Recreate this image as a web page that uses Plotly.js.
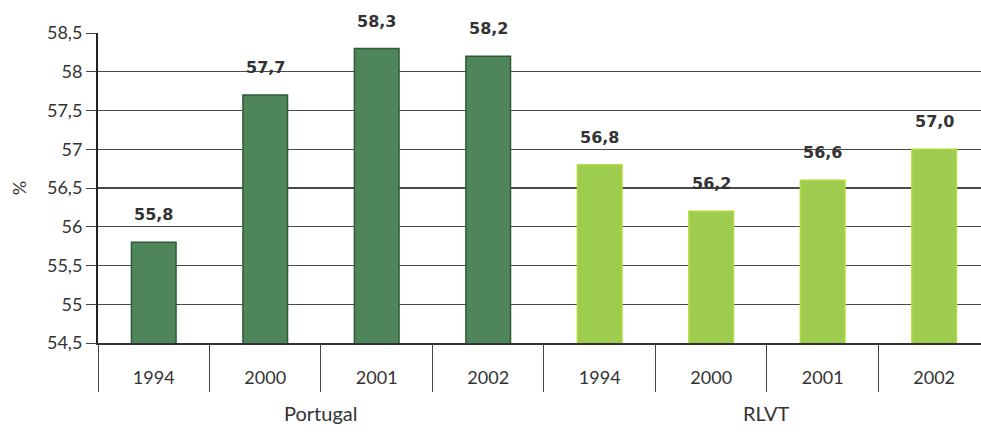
<!DOCTYPE html>
<html>
<head>
<meta charset="utf-8">
<script src="https://cdn.plot.ly/plotly-3.0.1.min.js"></script>
<style>html,body{margin:0;padding:0;background:#fff;}#chart{width:981px;height:432px;}</style>
</head>
<body>
<div id="chart"></div>
<script>
const years = ["1994", "2000", "2001", "2002"];
const groups = ["Portugal", "RLVT"];
const valuesPortugal = [55.8, 57.7, 58.3, 58.2];
const valuesRLVT = [56.8, 56.2, 56.6, 57.0];
const yTicks = [54.5, 55, 55.5, 56, 56.5, 57, 57.5, 58, 58.5];

const FONT = "Lato, 'Open Sans', sans-serif";
const n = years.length;
const seriesValues = [valuesPortugal, valuesRLVT];
const fills = ["#4f855a", "#9dcc4f"];
const outlines = ["#2f5a37", "#b3da3c"];

const traces = seriesValues.map((vals, g) => ({
  type: "bar",
  x: vals.map((_, i) => g * n + i),
  y: vals,
  width: 0.4,
  marker: {color: fills[g], line: {color: outlines[g], width: 1.5}},
  hoverinfo: "skip",
  showlegend: false
}));

const allPositions = [];
const allYearLabels = [];
groups.forEach((_, g) => years.forEach((yr, i) => { allPositions.push(g * n + i); allYearLabels.push(yr); }));

const annotations = [];
seriesValues.forEach((vals, g) => {
  vals.forEach((v, i) => {
    annotations.push({
      x: g * n + i, y: v, xref: "x", yref: "y",
      text: "<b>" + v.toFixed(1).replace(".", ",") + "</b>",
      showarrow: false, yanchor: "bottom", yshift: 16,
      font: {family: "'DejaVu Sans', sans-serif", size: 16, color: "#333"}
    });
  });
});
groups.forEach((name, g) => {
  annotations.push({
    x: g * n + (n - 1) / 2, xref: "x", y: -0.226, yref: "paper",
    text: name, showarrow: false, yanchor: "middle",
    font: {family: FONT, size: 20, color: "#333"}
  });
});

const xRange = [-0.5, 7.42];
const layout = {
  width: 981, height: 432,
  margin: {l: 98, r: 0, t: 33, b: 89},
  paper_bgcolor: "#fff", plot_bgcolor: "#fff",
  separators: ",.",
  font: {family: FONT, size: 18, color: "#333"},
  xaxis: {
    range: xRange,
    tickmode: "array", tickvals: allPositions, ticktext: allYearLabels,
    ticks: "", ticklabelstandoff: 17,
    minor: {tick0: -0.5, dtick: 1, ticks: "outside", ticklen: 47, tickcolor: "#444", tickwidth: 1, showgrid: false},
    showline: true, linecolor: "#333", linewidth: 2,
    tickfont: {family: FONT, size: 18, color: "#333"},
    showgrid: false, zeroline: false
  },
  xaxis2: {
    overlaying: "x", range: xRange,
    tickmode: "array", tickvals: groups.map((_, g) => g * n - 0.5), ticktext: groups.map(() => ""),
    ticks: "outside", ticklen: 100, tickcolor: "#444", tickwidth: 1,
    showline: false, showgrid: false, zeroline: false, side: "bottom"
  },
  yaxis: {
    range: [54.5, 58.5],
    tickvals: yTicks,
    ticktext: yTicks.map(t => String(t).replace(".", ",")),
    showgrid: true, gridcolor: "#4a4a4a", gridwidth: 1.2,
    showline: true, linecolor: "#222", linewidth: 2,
    ticks: "outside", ticklen: 10, tickcolor: "#444",
    tickfont: {family: FONT, size: 18, color: "#333"},
    zeroline: false,
    title: {text: "%", font: {family: FONT, size: 18, color: "#333"}, standoff: 16}
  },
  annotations: annotations
};

Plotly.newPlot("chart", traces, layout, {displayModeBar: false, staticPlot: true});
</script>
</body>
</html>
